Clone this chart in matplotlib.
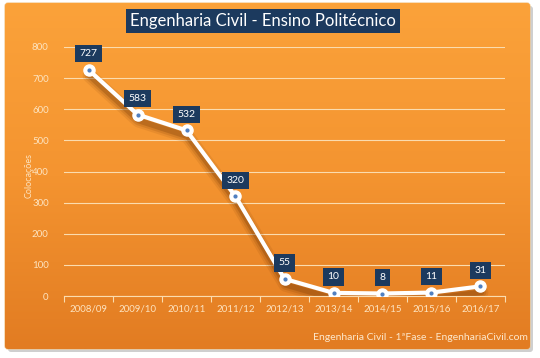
import matplotlib
matplotlib.use("Agg")
import matplotlib.pyplot as plt
import numpy as np
from matplotlib.patches import FancyBboxPatch
from matplotlib.colors import LinearSegmentedColormap
import matplotlib.transforms as mtransforms

categories = ["2008/09", "2009/10", "2010/11", "2011/12", "2012/13",
              "2013/14", "2014/15", "2015/16", "2016/17"]
values = [727, 583, 532, 320, 55, 10, 8, 11, 31]
yticks = [0, 100, 200, 300, 400, 500, 600, 700, 800]

title = "Engenharia Civil - Ensino Politécnico"
ylabel = "Colocações"
footer = "Engenharia Civil - 1ªFase - EngenhariaCivil.com"

FONT = ["Lato", "DejaVu Sans"]
plt.rcParams['font.family'] = FONT

W, H = 540, 358
fig = plt.figure(figsize=(W/100, H/100), dpi=100)
fig.patch.set_facecolor("white")

# background panel with gradient
bg = fig.add_axes([0, 0, 1, 1])
bg.set_xlim(0, W); bg.set_ylim(H, 0); bg.axis("off")
shadow = FancyBboxPatch((8, 6), 525, 346, boxstyle="round,pad=0,rounding_size=3",
                        fc="#b0b0b0", ec="none", alpha=0.6)
bg.add_patch(shadow)
panel = FancyBboxPatch((5, 3), 525, 346, boxstyle="round,pad=0,rounding_size=3",
                       fc="none", ec="#f2c486", lw=0.8)
bg.add_patch(panel)
cmap = LinearSegmentedColormap.from_list("org", ["#fba23a", "#f49430", "#e27c22"])
grad = np.linspace(0, 1, 256).reshape(-1, 1)
im = bg.imshow(grad, cmap=cmap, aspect="auto", extent=(5, 530, 349, 3), zorder=1)
im.set_clip_path(panel)

# title box
bg.text(W/2 - 7, 21, title, ha="center", va="center", fontsize=12, color="white",
        zorder=5,
        bbox=dict(boxstyle="square,pad=0.25", fc="#1c3a5e", ec="none"))
bg.text(528, 337, footer, ha="right", va="center", fontsize=7.5, color="#fde8cc", zorder=5)
bg.text(29, 175, ylabel, ha="center", va="center", rotation=90, fontsize=6.5,
        color="#fde3bf", zorder=5)

ax = fig.add_axes([64/W, 1-296/H, 441/W, 249/H])
ax.patch.set_alpha(0)
ax.set_zorder(2)
x = np.arange(len(categories))
ax.set_xlim(-0.5, len(categories) - 0.5)
ax.set_ylim(0, 800)
ax.set_yticks(yticks)
ax.yaxis.grid(True, color="#fbdcae", lw=0.8)
ax.set_axisbelow(True)
for s in ["top", "right", "left"]:
    ax.spines[s].set_visible(False)
ax.spines["bottom"].set_color("#fbdcae")
ax.spines["bottom"].set_linewidth(0.8)
ax.tick_params(axis="y", length=0, colors="#fde3bf", labelsize=7, pad=11)
ax.set_xticks(x)
ax.set_xticklabels(categories)
ax.tick_params(axis="x", length=0, colors="#fde3bf", labelsize=7, pad=6)
ax.set_xticks(np.arange(-0.5, len(categories), 1), minor=True)
ax.tick_params(axis="x", which="minor", length=4, color="#fbdcae", width=0.8)

# soft shadow under the line
shift = ax.transData + mtransforms.ScaledTranslation(1/100, -6/100, fig.dpi_scale_trans)
for lw, a in [(10, 0.10), (7, 0.15), (4, 0.25)]:
    ax.plot(x, values, color="#6e3404", lw=lw, alpha=a, solid_joinstyle="round",
            solid_capstyle="round", zorder=2.5, transform=shift)

ax.plot(x, values, color="white", lw=3, solid_joinstyle="round",
        marker="o", ms=8, mfc="white", mec="white", zorder=3)
ax.plot(x, values, ls="none", marker="o", ms=2, color="#4f7fc0", zorder=4)

for xi, v in zip(x, values):
    ax.annotate(str(v), (xi, v), xytext=(0, 16), textcoords="offset pixels",
                ha="center", va="center", fontsize=7.5, color="white", zorder=6,
                bbox=dict(boxstyle="square,pad=0.4", fc="#1c3a5e", ec="none"))

fig.savefig("out.png", dpi=100)
